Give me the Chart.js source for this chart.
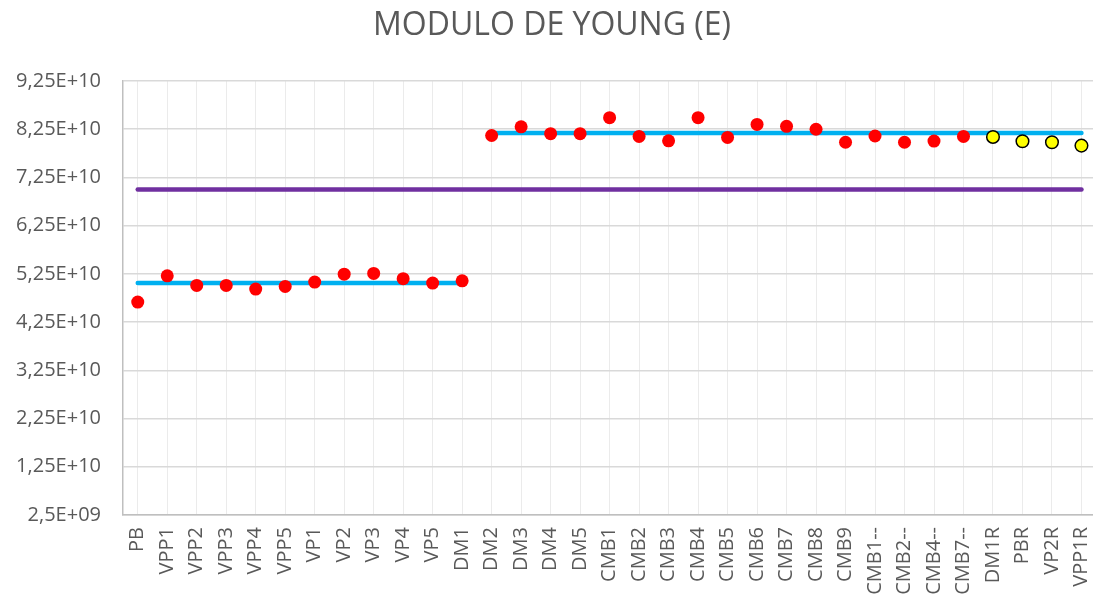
<!DOCTYPE html>
<html>
<head>
<meta charset="utf-8">
<script src="https://cdn.jsdelivr.net/npm/chart.js@4/dist/chart.umd.min.js"></script>
<style>
	html, body { margin: 0; padding: 0; background: #fff; overflow: hidden; }
	#wrapper { width: 1104px; height: 601px; }
</style>
</head>
<body>
<div id="wrapper"><canvas id="grafico"></canvas></div>
<script>
"use strict";

const categorie = ['PB', 'VPP1', 'VPP2', 'VPP3', 'VPP4', 'VPP5', 'VP1', 'VP2', 'VP3', 'VP4', 'VP5', 'DM1',
	'DM2', 'DM3', 'DM4', 'DM5', 'CMB1', 'CMB2', 'CMB3', 'CMB4', 'CMB5', 'CMB6', 'CMB7', 'CMB8', 'CMB9',
	'CMB1--', 'CMB2--', 'CMB4--', 'CMB7--', 'DM1R', 'PBR', 'VP2R', 'VPP1R'];

// punti rossi (provini originali)
const moduloProvini = [4.665e10, 5.21e10, 5.01e10, 5.01e10, 4.935e10, 4.99e10, 5.08e10, 5.245e10, 5.26e10, 5.15e10, 5.06e10, 5.107e10,
	8.12e10, 8.30e10, 8.157e10, 8.157e10, 8.49e10, 8.10e10, 8.01e10, 8.49e10, 8.08e10, 8.35e10, 8.31e10, 8.25e10, 7.98e10,
	8.11e10, 7.98e10, 8.005e10, 8.10e10, null, null, null, null];

// punti gialli (ripetizioni R)
const moduloRipetuti = [null, null, null, null, null, null, null, null, null, null, null, null,
	null, null, null, null, null, null, null, null, null, null, null, null, null,
	null, null, null, null, 8.09e10, 8.00e10, 7.98e10, 7.91e10];

const mediaBassa = 5.06e10;
const mediaAlta = 8.17e10;
const riferimento = 7.0e10;

const yTickValori = [2.5e9, 1.25e10, 2.25e10, 3.25e10, 4.25e10, 5.25e10, 6.25e10, 7.25e10, 8.25e10, 9.25e10];
const yTickEtichette = ['2,5E+09', '1,25E+10', '2,25E+10', '3,25E+10', '4,25E+10', '5,25E+10', '6,25E+10', '7,25E+10', '8,25E+10', '9,25E+10'];

const grigio = '#595959';
const font = "'Open Sans', sans-serif";

function linea(da, a, valore, colore) {
	return {
		data: [{ x: da, y: valore }, { x: a, y: valore }],
		borderColor: colore,
		backgroundColor: colore,
		borderWidth: 4.5,
		borderCapStyle: 'round',
		pointRadius: 0,
		showLine: true,
		order: 5
	};
}

const ctx = document.getElementById('grafico');
const chart = new Chart(ctx, {
	type: 'line',
	data: {
		labels: categorie,
		datasets: [
			{
				data: moduloProvini,
				showLine: false,
				pointRadius: 6.5,
				pointBackgroundColor: '#FF0000',
				pointBorderColor: '#FF0000',
				pointBorderWidth: 0,
				order: 1
			},
			{
				data: moduloRipetuti,
				showLine: false,
				pointRadius: 6.3,
				pointBackgroundColor: '#FFFF00',
				pointBorderColor: '#000000',
				pointBorderWidth: 1.5,
				order: 1
			},
			linea('PB', 'DM1', mediaBassa, '#00B0F0'),
			linea('DM2', 'VPP1R', mediaAlta, '#00B0F0'),
			linea('PB', 'VPP1R', riferimento, '#7030A0')
		]
	},
	options: {
		responsive: true,
		maintainAspectRatio: false,
		animation: false,
		layout: { padding: 0 },
		plugins: {
			legend: { display: false },
			tooltip: { enabled: false },
			title: {
				display: true,
				text: 'MODULO DE YOUNG (E)',
				color: grigio,
				font: { family: font, size: 32, weight: 'normal' },
				padding: { top: 7, bottom: 35.6 }
			}
		},
		scales: {
			x: {
				type: 'category',
				offset: true,
				grid: { offset: false, color: '#EBEBEB', lineWidth: 1, drawTicks: false },
				border: { color: '#BFBFBF', width: 1.5 },
				ticks: {
					color: grigio,
					font: { family: font, size: 20 },
					minRotation: 90,
					maxRotation: 90,
					autoSkip: false,
					padding: 12
				},
				afterFit: function (scale) {
					scale.height = 86;
					scale.paddingLeft = 0;
					scale.paddingRight = 0;
				}
			},
			y: {
				min: 2.5e9,
				max: 9.25e10,
				grid: { color: '#D9D9D9', lineWidth: 1.5, drawTicks: false },
				border: { color: '#BFBFBF', width: 1.5 },
				afterBuildTicks: function (scale) {
					scale.ticks = yTickValori.map(v => ({ value: v }));
				},
				ticks: {
					color: grigio,
					font: { family: font, size: 20 },
					padding: 22,
					callback: function (value, index) { return yTickEtichette[index]; }
				},
				afterFit: function (scale) {
					scale.width = 123;
					scale.paddingTop = 0;
					scale.paddingBottom = 0;
				}
			}
		}
	}
});
</script>
</body>
</html>
